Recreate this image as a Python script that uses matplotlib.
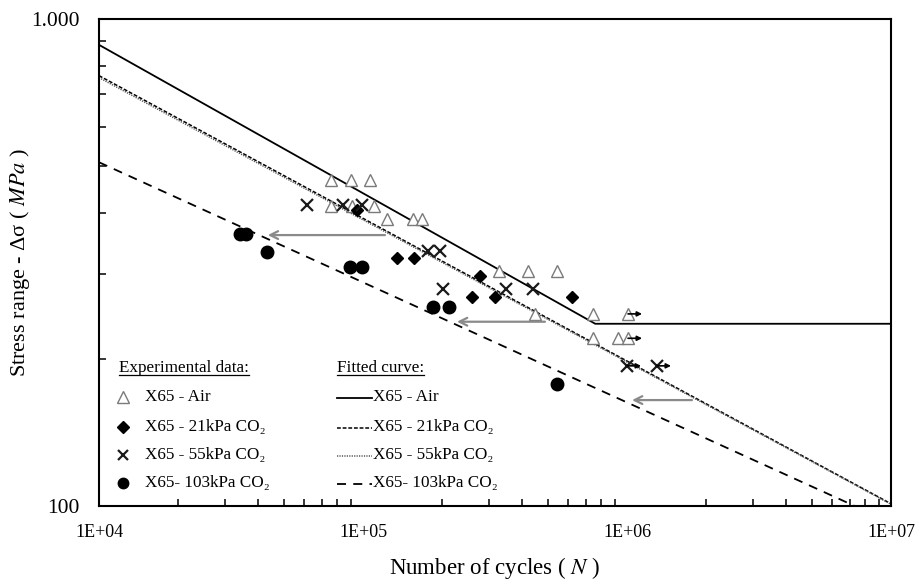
import numpy as np
import matplotlib
matplotlib.use("Agg")
import matplotlib.pyplot as plt

plt.rcParams['font.family'] = ['Liberation Serif', 'DejaVu Serif']
plt.rcParams['mathtext.fontset'] = 'stix'

# experimental data (cycles, stress range MPa)
air_N = [75600, 90000, 106300, 75600, 90800, 110100, 123300, 154600, 167300,
         327400, 421700, 543000, 448500, 743600, 1009000, 743600, 924800, 1009000]
air_S = [468, 468, 468, 413, 413, 413, 388, 388, 388,
         304, 304, 304, 248, 248, 248, 221, 221, 221]

co21_N = [94900, 134500, 156000, 277400, 258800, 316200, 619000]
co21_S = [405, 323, 323, 297, 269, 269, 269]

co55_N = [61400, 84000, 99100, 176300, 195700, 200900, 348200, 440500, 1000000, 1299000]
co55_S = [416, 416, 416, 334, 334, 279, 279, 279, 194, 194]

co103_N = [34200, 36000, 43300, 89300, 99100, 184200, 211700, 543000]
co103_S = [362, 362, 332, 310, 310, 256.5, 256.5, 178]

# run-outs (arrow to the right)
runout_N = [1009000, 1009000, 1000000, 1299000]
runout_S = [248, 221, 194, 194]

# shift arrows (from, to, stress)
shift_from = [121100, 489000, 1762000]
shift_to = [43600, 227000, 1045000]
shift_S = [360, 239, 165]

# fitted curves: S = S_1e4 * (N/1e4)^slope
fit_labels = ['X65 - Air', 'X65 - 21kPa CO\u2082', 'X65 - 55kPa CO\u2082', 'X65- 103kPa CO\u2082']
fit_S1e4 = [885, 765, 758, 508]
fit_slope = [-0.3048, -0.293, -0.292, -0.2466]
air_knee = 7.57e5

fig = plt.figure(figsize=(9.21, 5.84), dpi=100)
ax = fig.add_axes([99/921, 1-506/584, 792/921, 487/584])

N = np.logspace(4, 7, 400)
styles = [dict(ls='-', color='black', lw=1.3),
          dict(ls=(0, (2.5, 1.2)), color='black', lw=1.1),
          dict(ls=(0, (0.8, 0.8)), color='#555555', lw=1.1),
          dict(ls=(0, (5, 4)), color='black', lw=1.3)]
for i in range(4):
    S = fit_S1e4[i] * (N / 1e4) ** fit_slope[i]
    if i == 0:
        S = np.where(N > air_knee, fit_S1e4[0] * (air_knee / 1e4) ** fit_slope[0], S)
    ax.plot(N, S, **styles[i])

mk_air = dict(marker='^', ls='none', mfc='white', mec='#7a7a7a', mew=1.0, ms=9)
mk_21 = dict(marker='D', ls='none', color='black', ms=6.5)
mk_55 = dict(marker='x', ls='none', color='#1a1a1a', mew=1.6, ms=9)
mk_103 = dict(marker='o', ls='none', color='black', ms=9)
ax.plot(air_N, air_S, **mk_air)
ax.plot(co21_N, co21_S, **mk_21)
ax.plot(co55_N, co55_S, **mk_55)
ax.plot(co103_N, co103_S, **mk_103)

for n, s in zip(runout_N, runout_S):
    ax.annotate('', xy=(n * 1.13, s), xytext=(n, s),
                arrowprops=dict(arrowstyle='-|>', color='black', lw=1.2,
                                mutation_scale=7, shrinkA=0, shrinkB=0))
for a, b, s in zip(shift_from, shift_to, shift_S):
    ax.annotate('', xy=(b, s), xytext=(a, s),
                arrowprops=dict(arrowstyle='->', color='#8a8a8a', lw=1.6,
                                mutation_scale=14, shrinkA=0, shrinkB=0))

ax.set_xscale('log')
ax.set_yscale('log')
ax.set_xlim(1e4, 1e7)
ax.set_ylim(100, 1000)
ax.set_xticks([1e4, 1e5, 1e6, 1e7])
ax.set_xticklabels(['1E+04', '1E+05', '1E+06', '1E+07'])
ax.set_yticks([100, 1000])
ax.set_yticklabels(['100', '1.000'])
ax.yaxis.set_minor_formatter(matplotlib.ticker.NullFormatter())
ax.xaxis.set_minor_formatter(matplotlib.ticker.NullFormatter())
ax.tick_params(which='both', direction='in', width=1.1, color='black')
ax.tick_params(axis='x', which='major', length=0, pad=13, labelsize=13)
ax.tick_params(axis='y', which='major', length=0, pad=14, labelsize=15.5)
ax.tick_params(which='minor', length=5)
for sp in ax.spines.values():
    sp.set_linewidth(1.5)

ax.set_xlabel('Number of cycles ( $N$ )', fontsize=16.5, labelpad=10)
ax.set_ylabel('Stress range - \u0394\u03c3 ( $MPa$ )', fontsize=16)
ax.yaxis.set_label_coords(-0.085, 0.5)

# legend drawn by hand
def px(x, y):
    return ((x - 99) / 792, (506 - y) / 487)

rows = [397, 427, 455, 483]
mks = [mk_air, mk_21, mk_55, mk_103]
fs = 12.3
h1 = ax.text(*px(119, 368), 'Experimental data:', transform=ax.transAxes, fontsize=fs, va='center')
h2 = ax.text(*px(337, 368), 'Fitted curve:', transform=ax.transAxes, fontsize=fs, va='center')
for i, y in enumerate(rows):
    m = dict(mks[i])
    if i == 0:
        m['ms'] = 8
    elif i == 2:
        m['ms'] = 7.5
    elif i == 3:
        m['ms'] = 7.5
    ax.plot(*px(123, y), transform=ax.transAxes, clip_on=False, **m)
    ax.text(*px(145, y), fit_labels[i], transform=ax.transAxes, fontsize=fs, va='center')
    x0, yy = px(337, y + 1)
    x1, _ = px(372, y + 1)
    ax.plot([x0, x1], [yy, yy], transform=ax.transAxes, **styles[i])
    ax.text(*px(373, y), fit_labels[i], transform=ax.transAxes, fontsize=fs, va='center')

fig.canvas.draw()
inv = ax.transAxes.inverted()
for t in (h1, h2):
    bb = t.get_window_extent()
    (xa, ya), (xb, _) = inv.transform([(bb.x0, bb.y0 + 1), (bb.x1, bb.y0 + 1)])
    ax.plot([xa, xb], [ya, ya], transform=ax.transAxes, color='black', lw=0.9)

fig.savefig('out.png', dpi=100)
